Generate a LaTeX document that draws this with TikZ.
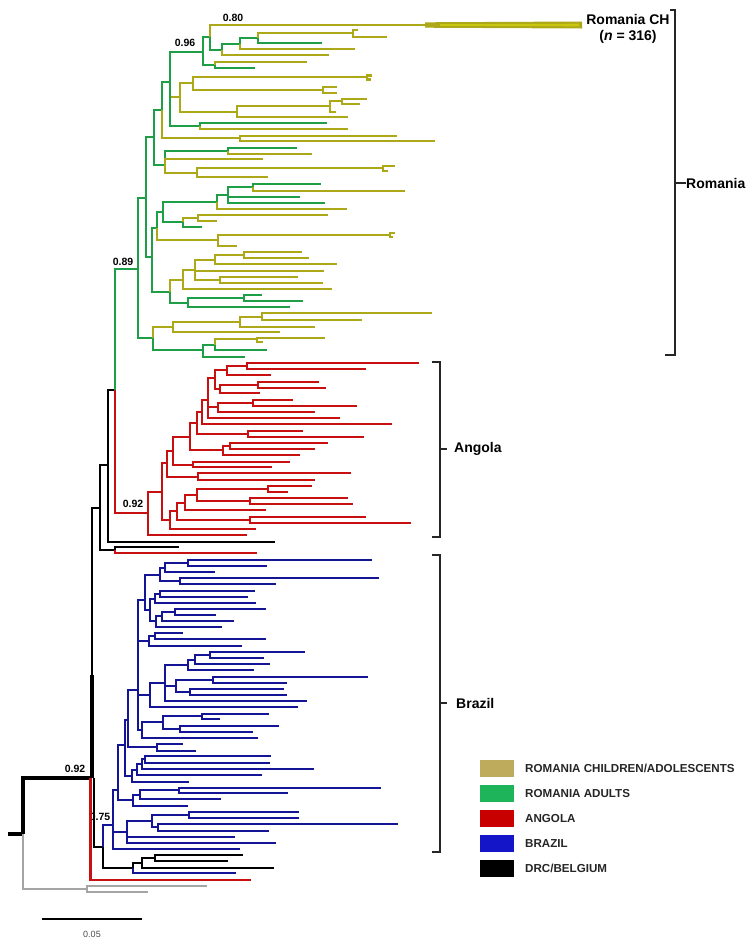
\documentclass[tikz,border=0pt]{standalone}
\usepackage{fontspec}
\setmainfont{Liberation Sans}
\definecolor{ry}{RGB}{172,168,24}
\definecolor{rg}{RGB}{30,158,70}
\definecolor{ang}{RGB}{200,16,16}
\definecolor{bra}{RGB}{20,20,150}
\definecolor{gra}{RGB}{165,165,165}
\definecolor{legy}{RGB}{190,172,92}
\definecolor{legg}{RGB}{30,180,90}
\definecolor{legr}{RGB}{200,0,0}
\definecolor{legb}{RGB}{20,20,200}
\newcounter{lc}
\newcommand\tn[4]{\coordinate (#1) at (#3);\draw[#4] (#2) |- (#1);}
\newcommand\lf[3]{\stepcounter{lc}\edef\lname{lf\arabic{lc}}\coordinate (\lname) at (#2);\draw[#3] (#1) |- (\lname);}
\tikzset{
  tree/.style={line width=2.6pt},
  sY/.style={tree,draw=ry},
  sG/.style={tree,draw=rg},
  sR/.style={tree,draw=ang},
  sB/.style={tree,draw=bra},
  sK/.style={tree,draw=black},
  sA/.style={tree,draw=gra},
  lbl/.style={font=\bfseries\fontsize{10.5}{12}\selectfont,inner sep=0pt},
  clade/.style={font=\bfseries\fontsize{14}{16}\selectfont,inner sep=0pt,anchor=west},
  brk/.style={line width=1.8pt,draw=black!85},
  legbox/.style={minimum width=34pt,minimum height=17pt,inner sep=0pt},
  legtxt/.style={font=\bfseries\fontsize{11.6}{13}\selectfont,inner sep=0pt,anchor=west,text=black!85},
}
\begin{document}
\begin{tikzpicture}[x=1pt,y=-1pt]
\useasboundingbox (0,0) rectangle (755,946);
% label drawn under lines
\node[lbl] (l075) at (100,817) {0.75};
% ---------- root ----------
\coordinate (r0) at (8,834);
\coordinate (root) at (23,834);
\draw[sK,line width=3.2pt] (r0) -- (root);
\tn{Q}{root}{92,778}{sK,line width=3.2pt}
\tn{Gn}{root}{87,889}{sA,line width=2.8pt}
\lf{Gn}{207,886}{sA}
\lf{Gn}{148,892}{sA}
\coordinate (Qt) at (92,675);
\draw[sK,line width=4.5pt] (Q) -- (Qt);
\tn{P3}{Q}{100,508}{sK}
\coordinate (Qr) at (90.5,778);
\coordinate (Qk) at (94,778);
\lf{Qr}{251,880}{sR}
\tn{P2}{P3}{108,465}{sK}
\tn{P4}{P3}{115,550}{sK}
\lf{P4}{179,547}{sK}
\lf{P4}{257,553}{sR}
\tn{P1}{P2}{115,390}{sK}
\lf{P2}{275,542}{sK}
\tn{R1}{P1}{138,269}{sG}
\tn{A0}{P1}{148,513}{sR}
% ---------- Romania ----------
\tn{R2}{R1}{146,198}{sG}
\tn{R3}{R1}{153,338}{sG}
\tn{K3}{R2}{154,137}{sG}
\tn{M}{R2}{152,257}{sG}
\tn{K2}{K3}{162,110}{sG}
\tn{K4}{K3}{165,165}{sG}
\tn{K1}{K2}{170,82}{sG}
\tn{K5}{K2}{240,138}{sY}
\lf{K5}{397,136}{sY}
\lf{K5}{435,141}{sY}
\tn{N96}{K1}{203,52}{sG}
\tn{Y1}{K1}{180,97}{sY}
\tn{G1}{K1}{200,126}{sG}
\tn{N80}{N96}{210,37}{sG}
\tn{n5}{N96}{215,65}{sG}
\lf{n5}{307,62}{sY}
\lf{n5}{255,68}{sG}
\coordinate (chend) at (582,25);
\coordinate (chA) at (425,22.3);
\coordinate (chB) at (582,21.5);
\coordinate (chC) at (582,28.5);
\coordinate (chD) at (425,27.7);
\draw[sY] (N80) |- (chend);
\fill[ry] (chA) -- (chB) -- (chC) -- (chD) -- cycle;
\coordinate (ciA) at (440,24.2);
\coordinate (ciB) at (579,23.7);
\coordinate (ciC) at (579,26.3);
\coordinate (ciD) at (440,25.8);
\fill[ry!65!yellow] (ciA) -- (ciB) -- (ciC) -- (ciD) -- cycle;
\tn{n2}{N80}{222,50}{sG}
\tn{n3}{n2}{240,44}{sG}
\lf{n2}{329,55}{sY}
\tn{n4}{n3}{258,38}{sG}
\lf{n3}{355,49}{sY}
\tn{n4a}{n4}{353,33}{sY}
\lf{n4}{322,43}{sG}
\lf{n4a}{358,30}{sY}
\lf{n4a}{387,37}{sY}
\tn{y1a}{Y1}{193,83}{sY}
\tn{y1c}{Y1}{237,112}{sY}
\tn{y1t}{y1a}{367,77}{sY}
\lf{y1t}{372,75.5}{sY}
\lf{y1t}{371,79.5}{sY}
\tn{y1b}{y1a}{323,90}{sY}
\lf{y1b}{337,87}{sY}
\lf{y1b}{337,93}{sY}
\tn{y1d}{y1c}{330,106}{sY}
\lf{y1c}{348,117}{sY}
\tn{y1e}{y1d}{342,101}{sY}
\lf{y1d}{336,112}{sY}
\lf{y1e}{367,99}{sY}
\lf{y1e}{360,104}{sY}
\lf{G1}{327,123}{sG}
\lf{G1}{348,129}{sY}
\tn{k1}{K4}{228,151}{sG}
\lf{K4}{263,159}{sY}
\tn{k2}{K4}{197,173}{sY}
\lf{k1}{297,148}{sG}
\lf{k1}{312,154}{sY}
\tn{k3}{k2}{383,168}{sY}
\lf{k2}{268,177}{sY}
\lf{k3}{395,166}{sY}
\lf{k3}{388,171}{sY}
\tn{g7}{M}{157,228}{sG}
\tn{Mz}{M}{170,292}{sG}
\tn{g6}{g7}{163,212}{sG}
\tn{g8}{g7}{218,240}{sY}
\tn{g3}{g6}{217,202}{sG}
\tn{g5}{g6}{183,222}{sG}
\tn{g2}{g3}{228,195}{sG}
\lf{g3}{347,209}{sY}
\tn{g1}{g2}{253,187}{sG}
\lf{g2}{300,197}{sG}
\lf{g2}{325,203}{sG}
\lf{g1}{321,184}{sG}
\lf{g1}{405,191}{sY}
\tn{g4}{g5}{198,218}{sY}
\lf{g5}{202,227}{sG}
\lf{g4}{328,215}{sY}
\lf{g4}{217,221}{sY}
\tn{g8t}{g8}{390,235}{sY}
\lf{g8t}{395,233}{sY}
\lf{g8t}{393,237}{sY}
\lf{g8}{237,246}{sY}
\tn{z5}{Mz}{183,280}{sY}
\tn{z7}{Mz}{188,303}{sG}
\tn{z4}{z5}{195,270}{sY}
\lf{z5}{332,289}{sY}
\tn{z2}{z4}{215,260}{sY}
\lf{z4}{324,271}{sY}
\tn{z3}{z4}{220,280}{sY}
\tn{z1}{z2}{244,255}{sY}
\lf{z2}{337,264}{sY}
\lf{z1}{302,252}{sY}
\lf{z1}{309,258}{sY}
\lf{z3}{298,277}{sY}
\lf{z3}{323,283}{sY}
\tn{z6}{z7}{244,298}{sG}
\lf{z7}{290,307}{sG}
\lf{z6}{262,295}{sG}
\lf{z6}{303,301}{sG}
\tn{r3}{R3}{173,327}{sY}
\tn{r5}{R3}{203,350}{sG}
\tn{r2}{r3}{240,322}{sY}
\lf{r3}{280,332}{sY}
\tn{r1}{r2}{262,317}{sY}
\lf{r2}{315,327}{sY}
\lf{r1}{432,313}{sY}
\lf{r1}{362,320}{sY}
\tn{r4}{r5}{215,345}{sG}
\lf{r5}{245,357}{sG}
\tn{r4a}{r4}{257,339}{sY}
\lf{r4}{267,350}{sG}
\lf{r4a}{325,338}{sY}
\lf{r4a}{263,342}{sY}
% ---------- Angola ----------
\tn{B}{A0}{162,492}{sR}
\lf{A0}{247,535}{sR}
\tn{N15}{B}{167,463}{sR}
\tn{M7}{B}{170,520}{sR}
\tn{N13}{N15}{173,451}{sR}
\tn{N14}{N15}{198,477}{sR}
\lf{N14}{351,473}{sR}
\lf{N14}{315,480}{sR}
\tn{N11}{N13}{190,437}{sR}
\tn{N12}{N13}{193,465}{sR}
\lf{N12}{290,462}{sR}
\lf{N12}{272,467}{sR}
\tn{N9}{N11}{197,423}{sR}
\tn{N10b}{N11}{223,450}{sR}
\tn{N10}{N10b}{230,446}{sR}
\lf{N10b}{300,455}{sR}
\lf{N10}{328,443}{sR}
\lf{N10}{315,449}{sR}
\tn{N7}{N9}{202,412}{sR}
\tn{N8}{N9}{248,434}{sR}
\lf{N8}{303,431}{sR}
\lf{N8}{364,437}{sR}
\tn{N6}{N7}{208,400}{sR}
\lf{N7}{392,424}{sR}
\tn{N4}{N6}{215,378}{sR}
\tn{N5b}{N6}{218,407}{sR}
\lf{N6}{340,418}{sR}
\tn{N5}{N5b}{253,403}{sR}
\lf{N5b}{315,412}{sR}
\lf{N5}{293,400}{sR}
\lf{N5}{357,406}{sR}
\tn{N2}{N4}{227,370}{sR}
\tn{N4a}{N4}{220,389}{sR}
\tn{N3}{N4a}{258,385}{sR}
\lf{N4a}{260,393}{sR}
\lf{N3}{319,382}{sR}
\lf{N3}{326,388}{sR}
\tn{N1}{N2}{247,366}{sR}
\lf{N2}{271,375}{sR}
\lf{N1}{419,363}{sR}
\lf{N1}{366,369}{sR}
\tn{M6}{M7}{177,511}{sR}
\lf{M7}{256,529}{sR}
\tn{M4}{M6}{185,503}{sR}
\tn{M5}{M6}{250,520}{sR}
\lf{M5}{366,517}{sR}
\lf{M5}{411,523}{sR}
\tn{M3}{M4}{197,495}{sR}
\lf{M4}{266,510}{sR}
\tn{M1}{M3}{268,489}{sR}
\tn{M2}{M3}{250,501}{sR}
\lf{M1}{312,486}{sR}
\lf{M1}{288,492}{sR}
\lf{M2}{348,498}{sR}
\lf{M2}{353,504}{sR}
% ---------- Brazil / DRC ----------
\tn{Qb}{Qk}{103,847}{sK}
\tn{B42}{Qb}{113,825}{sB}
\tn{D0}{Qb}{133,868}{sK}
\tn{B44}{B42}{118,790}{sB}
\tn{n40}{B42}{127,832}{sB}
\lf{B42}{240,849}{sB}
\tn{n39}{n40}{152,821}{sB}
\lf{n40}{235,837}{sB}
\lf{n40}{276,843}{sB}
\tn{n37}{n39}{189,815}{sB}
\tn{n38}{n39}{158,827}{sB}
\lf{n37}{299,812}{sB}
\lf{n37}{299,818}{sB}
\lf{n38}{398,824}{sB}
\lf{n38}{269,831}{sB}
\tn{B43}{B44}{125,745}{sB}
\tn{n36}{B44}{133,800}{sB}
\tn{n35}{n36}{140,795}{sB}
\lf{n36}{188,806}{sB}
\tn{n34}{n35}{179,790}{sB}
\lf{n35}{221,799}{sB}
\lf{n34}{381,788}{sB}
\lf{n34}{288,793}{sB}
\tn{n29}{B43}{128,720}{sB}
\tn{n33}{B43}{132,776}{sB}
\tn{n32}{n33}{137,770}{sB}
\lf{n33}{189,782}{sB}
\tn{n31}{n32}{142,764}{sB}
\lf{n32}{262,775}{sB}
\tn{n30}{n31}{145,759}{sB}
\lf{n31}{314,769}{sB}
\lf{n30}{271,756}{sB}
\lf{n30}{270,763}{sB}
\tn{T1}{n29}{138,690}{sB}
\tn{n28}{n29}{157,747}{sB}
\lf{n28}{183,744}{sB}
\lf{n28}{196,751}{sB}
\tn{n11}{T1}{145,600}{sB}
\tn{n13}{T1}{149,641}{sB}
\tn{n22}{T1}{150,695}{sB}
\tn{n26}{T1}{142,730}{sB}
\tn{bn4}{n11}{160,575}{sB}
\tn{bn10}{n11}{150,610}{sB}
\tn{bn3}{bn4}{165,568}{sB}
\tn{bn2}{bn4}{180,581}{sB}
\tn{bn1}{bn3}{188,563}{sB}
\lf{bn3}{215,572}{sB}
\lf{bn1}{372,560}{sB}
\lf{bn1}{267,566}{sB}
\lf{bn2}{379,578}{sB}
\lf{bn2}{276,584}{sB}
\tn{bn6}{bn10}{155,599}{sB}
\tn{bn9}{bn10}{156,621}{sB}
\tn{bn5}{bn6}{160,594}{sB}
\lf{bn6}{256,603}{sB}
\lf{bn5}{255,591}{sB}
\lf{bn5}{248,597}{sB}
\tn{bn8}{bn9}{162,616}{sB}
\lf{bn9}{222,627}{sB}
\tn{bn7}{bn8}{175,612}{sB}
\lf{bn8}{234,621}{sB}
\lf{bn7}{266,609}{sB}
\lf{bn7}{216,615}{sB}
\tn{bn12}{n13}{155,636}{sB}
\lf{n13}{242,646}{sB}
\lf{bn12}{183,633}{sB}
\lf{bn12}{266,639}{sB}
\tn{bn21}{n22}{165,683}{sB}
\lf{n22}{298,707}{sB}
\tn{bn17}{bn21}{188,665}{sB}
\tn{bn20}{bn21}{176,686}{sB}
\lf{bn21}{307,701}{sB}
\tn{bn16}{bn17}{195,660}{sB}
\lf{bn17}{254,670}{sB}
\tn{bn15}{bn16}{210,655}{sB}
\lf{bn16}{270,664}{sB}
\lf{bn15}{305,652}{sB}
\lf{bn15}{264,658}{sB}
\tn{bn18}{bn20}{213,680}{sB}
\tn{bn19}{bn20}{190,692}{sB}
\lf{bn18}{368,677}{sB}
\lf{bn18}{287,683}{sB}
\lf{bn19}{284,689}{sB}
\lf{bn19}{287,695}{sB}
\tn{bn25}{n26}{163,722}{sB}
\lf{n26}{258,738}{sB}
\tn{bn23}{bn25}{202,716}{sB}
\tn{bn24}{bn25}{180,729}{sB}
\lf{bn23}{269,714}{sB}
\lf{bn23}{220,719}{sB}
\lf{bn24}{279,726}{sB}
\lf{bn24}{253,732}{sB}
\tn{D1}{D0}{142,863}{sK}
\lf{D0}{236,873}{sB}
\tn{D2}{D1}{155,858}{sK}
\lf{D1}{274,868}{sK}
\lf{D2}{243,855}{sK}
\lf{D2}{228,861}{sK}
% ---------- support values ----------
\node[lbl] (l080) at (233,18) {0.80};
\node[lbl] (l096) at (185,43) {0.96};
\node[lbl] (l089) at (123,262) {0.89};
\node[lbl] (l092a) at (133,504) {0.92};
\node[lbl] (l092b) at (75,769) {0.92};
% ---------- clade labels & brackets ----------
\node[font=\bfseries\fontsize{14}{16}\selectfont,align=center,inner sep=0pt] (rch) at (628,29) {Romania CH\\(\textit{n} = 316)};
\coordinate (rb1) at (670,10);
\coordinate (rb2) at (665,355);
\draw[brk] (rb1) -- ++(5,0) |- (rb2);
\coordinate (rbm) at (675,183);
\node[clade] (rom) at (686,183) {Romania};
\draw[brk] (rbm) -- (rom.west);
\coordinate (ab1) at (432,362);
\coordinate (ab2) at (432,537);
\draw[brk] (ab1) -- ++(8,0) |- (ab2);
\coordinate (abm) at (440,449);
\node[clade] (ango) at (454,449) {Angola};
\draw[brk] (abm) -- ++(7,0);
\coordinate (bb1) at (432,555);
\coordinate (bb2) at (432,852);
\draw[brk] (bb1) -- ++(8,0) |- (bb2);
\coordinate (bbm) at (440,703);
\node[clade] (braz) at (456,703) {Brazil};
\draw[brk] (bbm) -- ++(7,0);
% ---------- legend ----------
\node[legbox,fill=legy] (k1) at (497,768) {};
\node[legbox,fill=legg] (k2) at (497,793.5) {};
\node[legbox,fill=legr] (k3) at (497,818.5) {};
\node[legbox,fill=legb] (k4) at (497,843.5) {};
\node[legbox,fill=black] (k5) at (497,868.5) {};
\node[legtxt] (t1) at (525,768) {ROMANIA CHILDREN/ADOLESCENTS};
\node[legtxt] (t2) at (525,793.5) {ROMANIA ADULTS};
\node[legtxt] (t3) at (525,818.5) {ANGOLA};
\node[legtxt] (t4) at (525,843.5) {BRAZIL};
\node[legtxt] (t5) at (525,868.5) {DRC/BELGIUM};
% ---------- scale bar ----------
\coordinate (s1) at (42,919);
\coordinate (s2) at (142,919);
\draw[line width=2.2pt] (s1) -- (s2);
\node[font=\fontsize{9}{10}\selectfont,text=black!70,inner sep=0pt] (sl) at (92,934) {0.05};
\end{tikzpicture}
\end{document}
